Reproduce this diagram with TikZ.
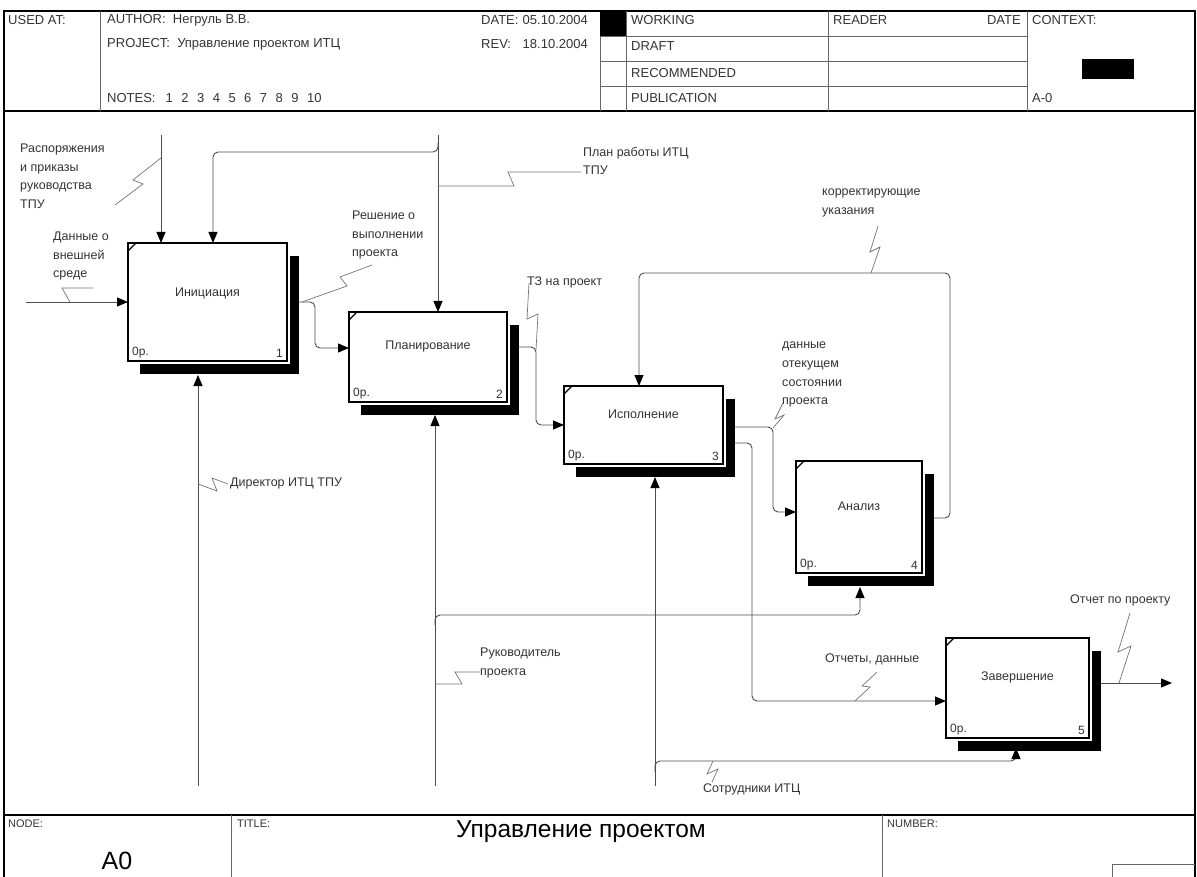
\documentclass[tikz,border=0pt]{standalone}
\usepackage{fontspec}
\setmainfont{Liberation Sans}
\usetikzlibrary{arrows.meta,shadows}

\begin{document}
\begin{tikzpicture}[x=1pt,y=-1pt,
    frame/.style={draw=black, line width=1.3pt},
    rule/.style={draw=black!60, line width=0.8pt},
    form/.style={anchor=west, inner sep=0pt, text=black!80, font=\fontsize{13}{15}\selectfont},
    small/.style={form, font=\fontsize{11}{13}\selectfont},
    actbox/.style={draw=black, line width=1.6pt, fill=white, inner sep=0pt, outer sep=0pt,
      drop shadow={shadow xshift=12pt, shadow yshift=-13pt, fill=black, opacity=1},
      preaction={draw=white, line width=5pt}},
    boxtitle/.style={inner sep=0pt, text=black!80, font=\fontsize{12.5}{15}\selectfont},
    boxnum/.style={inner sep=0pt, text=black!80, font=\fontsize{12}{14}\selectfont},
    lbl/.style={anchor=north west, align=left, inner sep=0pt, text=black!80, font=\fontsize{12.5}{18.6}\selectfont},
    conn/.style={draw=black!70, line width=0.9pt, rounded corners=5pt},
    arr/.style={conn, -{Triangle[length=11pt,width=9pt,color=black]}},
    squig/.style={draw=black!55, line width=0.7pt}]

  \useasboundingbox (0,0) rectangle (1197,877);

  % form
  \draw[frame] (4,877) -- (4,11) -- (1195,11) -- (1195,877);
  \draw[frame] (4,111) -- (1195,111);
  \draw[frame] (4,815) -- (1195,815);
  \foreach \x in {100,600,626,828,1027} \draw[rule] (\x,11) -- (\x,111);
  \foreach \y in {36,61,86} \draw[rule] (600,\y) -- (1027,\y);
  \fill (600,11) rectangle (626,36);
  \fill (1082,59) rectangle (1134,79);
  \foreach \x in {231,882} \draw[rule] (\x,815) -- (\x,877);
  \draw[rule] (1112,877) -- (1112,864) -- (1195,864);

  \node[form] (used) at (8,20) {USED AT:};
  \node[form] (author) at (107,20) {AUTHOR:\ \ Негруль В.В.};
  \node[form] (project) at (107,44) {PROJECT:\ \ Управление проектом ИТЦ};
  \node[form] (notes) at (107,98) {NOTES:\hspace{10pt}1\hspace{8.5pt}2\hspace{8.5pt}3\hspace{8.5pt}4\hspace{8.5pt}5\hspace{8.5pt}6\hspace{8.5pt}7\hspace{8.5pt}8\hspace{8.5pt}9\hspace{8.5pt}10};
  \node[form] (date) at (481,20) {DATE:};
  \node[form, anchor=east] (date-v) at (588,20) {05.10.2004};
  \node[form] (rev) at (481,44) {REV:};
  \node[form, anchor=east] (rev-v) at (588,44) {18.10.2004};
  \foreach \y/\s in {20/WORKING,46/DRAFT,73/RECOMMENDED,98/PUBLICATION}
    \node[form] (st-\s) at (631,\y) {\s};
  \node[form] (reader) at (833,20) {READER};
  \node[form, anchor=east] (reader-d) at (1021,20) {DATE};
  \node[form] (context) at (1032,20) {CONTEXT:};
  \node[form] (ctx-node) at (1032,98) {A-0};
  \node[small] (node-h) at (8,824) {NODE:};
  \node[small] (title-h) at (237,824) {TITLE:};
  \node[small] (number-h) at (887,824) {NUMBER:};
  \node[inner sep=0pt, font=\fontsize{25}{28}\selectfont] (node-v) at (117,861) {A0};
  \node[inner sep=0pt, font=\fontsize{24.5}{28}\selectfont] (title-v) at (581,832) {Управление проектом};

  % activity boxes
  \foreach \n/\cx/\cy/\w/\h/\ty/\k/\t in {
      init/207.5/302/159/118/293/1/Инициация,
      plan/428/357/158/90/346/2/Планирование,
      exec/643.5/425/159/78/414/3/Исполнение,
      anal/859/517/126/112/506/4/Анализ,
      fin/1017.5/688/143/100/677/5/Завершение}{
    \node[actbox, minimum width=\w pt, minimum height=\h pt] (\n) at (\cx,\cy) {};
    \draw[line width=1.2pt] ([yshift=-8pt]\n.north west) -- ([xshift=8pt]\n.north west);
    \node[boxtitle] (\n-t) at (\cx,\ty) {\t};
    \node[boxnum, anchor=south west] (\n-p) at ([shift={(4pt,3pt)}]\n.south west) {0р.};
    \node[boxnum, anchor=south east] (\n-k) at ([shift={(-4pt,3pt)}]\n.south east) {\k};
  }

  % inputs and controls
  \coordinate (ext-in) at (26,302);
  \draw[arr] (ext-in) -- (init.west);
  \coordinate (ord-in) at (161,135);
  \draw[arr] (ord-in) -- (ord-in |- init.north);
  \coordinate (pw-in) at (438,135);
  \draw[arr] (pw-in) -- (pw-in |- plan.north);
  \coordinate (pw-br) at (438,143);
  \coordinate (init-c2) at (213,152);
  \draw[arr] (pw-br) -- (pw-br |- init-c2) -- (init-c2) -- (init-c2 |- init.north);

  % outputs
  \coordinate (init-o) at (299,302);
  \coordinate (plan-i) at (315,348);
  \draw[arr] (init-o) -- (init-o -| plan-i) -- (plan-i) -- (plan-i -| plan.west);
  \coordinate (plan-o) at (519,347);
  \coordinate (exec-i) at (536,425);
  \draw[arr] (plan-o) -- (plan-o -| exec-i) -- (exec-i) -- (exec.west);
  \coordinate (exec-o1) at (735,427);
  \coordinate (anal-i) at (773,512);
  \draw[arr] (exec-o1) -- (exec-o1 -| anal-i) -- (anal-i) -- (anal-i -| anal.west);
  \coordinate (exec-o2) at (735,443);
  \coordinate (fin-i) at (752,701);
  \draw[arr] (exec-o2) -- (exec-o2 -| fin-i) -- (fin-i) -- (fin-i -| fin.west);
  \coordinate (anal-o) at (934,518);
  \coordinate (fb-c) at (950,273);
  \coordinate (exec-c) at (639,273);
  \draw[arr] (anal-o) -- (anal-o -| fb-c) -- (fb-c) -- (exec-c) -- (exec-c |- exec.north);
  \coordinate (fin-o) at (1101,683);
  \coordinate (rep-out) at (1172,683);
  \draw[arr] (fin-o) -- (rep-out);

  % mechanisms
  \coordinate (dir-in) at (198,786);
  \coordinate (init-m) at (198,375);
  \draw[arr] (dir-in) -- (init-m);
  \coordinate (head-in) at (435,786);
  \coordinate (plan-m) at (435,415);
  \draw[arr] (head-in) -- (plan-m);
  \coordinate (head-br) at (435,625);
  \coordinate (anal-m) at (860,587);
  \draw[arr] (head-br) -- (head-br |- 0,615) -- (anal-m |- 0,615) -- (anal-m);
  \coordinate (staff-in) at (655,786);
  \coordinate (exec-m) at (655,477);
  \draw[arr] (staff-in) -- (exec-m);
  \coordinate (staff-br) at (655,772);
  \coordinate (fin-m) at (1016,748);
  \draw[arr] (staff-br) -- (staff-br |- 0,761) -- (fin-m |- 0,761) -- (fin-m);

  % labels
  \node[lbl] (lbl-ord) at (20,144) {Распоряжения\\и приказы\\руководства\\ТПУ};
  \node[lbl] (lbl-ext) at (53,232) {Данные о\\внешней\\среде};
  \node[lbl] (lbl-dec) at (352,211) {Решение о\\выполнении\\проекта};
  \node[lbl] (lbl-plan) at (583,147) {План работы ИТЦ\\ТПУ};
  \node[lbl] (lbl-tz) at (527,277) {ТЗ на проект};
  \node[lbl] (lbl-corr) at (822,189) {корректирующие\\указания};
  \node[lbl] (lbl-cur) at (782,342) {данные\\отекущем\\состоянии\\проекта};
  \node[lbl] (lbl-dir) at (230,478) {Директор ИТЦ ТПУ};
  \node[lbl] (lbl-head) at (480,648) {Руководитель\\проекта};
  \node[lbl] (lbl-staff) at (703,784) {Сотрудники ИТЦ};
  \node[lbl] (lbl-rep) at (825,654) {Отчеты, данные};
  \node[lbl] (lbl-out) at (1070,595) {Отчет по проекту};

  % label leaders
  \coordinate (s-ord) at (161,158);
  \draw[squig] (s-ord) -- ++(-28,22) -- ++(10,4) -- ++(-28,21);
  \coordinate (s-ext) at (70,302);
  \draw[squig] (s-ext) -- ++(-8,-14) -- ++(31,0);
  \coordinate (s-dec) at (302,302);
  \draw[squig] (s-dec) -- ++(45,-16) -- ++(-7,-9) -- ++(32,-12);
  \coordinate (s-plan) at (438,186);
  \draw[squig] (s-plan) -- ++(76,0) -- ++(-6,-14) -- ++(73,0);
  \coordinate (s-tz) at (536,350);
  \draw[squig] (s-tz) -- ++(2,-36) -- ++(-11,5) -- ++(2,-36);
  \coordinate (s-corr) at (871,273);
  \draw[squig] (s-corr) -- ++(9,-26) -- ++(-10,5) -- ++(8,-26);
  \coordinate (s-cur) at (773,428);
  \draw[squig] (s-cur) -- ++(11,-13) -- ++(-9,4) -- ++(8,-16);
  \coordinate (s-dir) at (198,484);
  \draw[squig] (s-dir) -- ++(19,7) -- ++(-5,-13) -- ++(16,6);
  \coordinate (s-head) at (435,684);
  \draw[squig] (s-head) -- ++(27,0) -- ++(-7,-12) -- ++(25,0);
  \coordinate (s-staff) at (713,761);
  \draw[squig] (s-staff) -- ++(-6,13) -- ++(11,-5) -- ++(-6,13);
  \coordinate (s-rep) at (855,701);
  \draw[squig] (s-rep) -- ++(15,-14) -- ++(-8,-1) -- ++(15,-14);
  \coordinate (s-out) at (1119,683);
  \draw[squig] (s-out) -- ++(12,-37) -- ++(-13,6) -- ++(12,-39);
\end{tikzpicture}
\end{document}
